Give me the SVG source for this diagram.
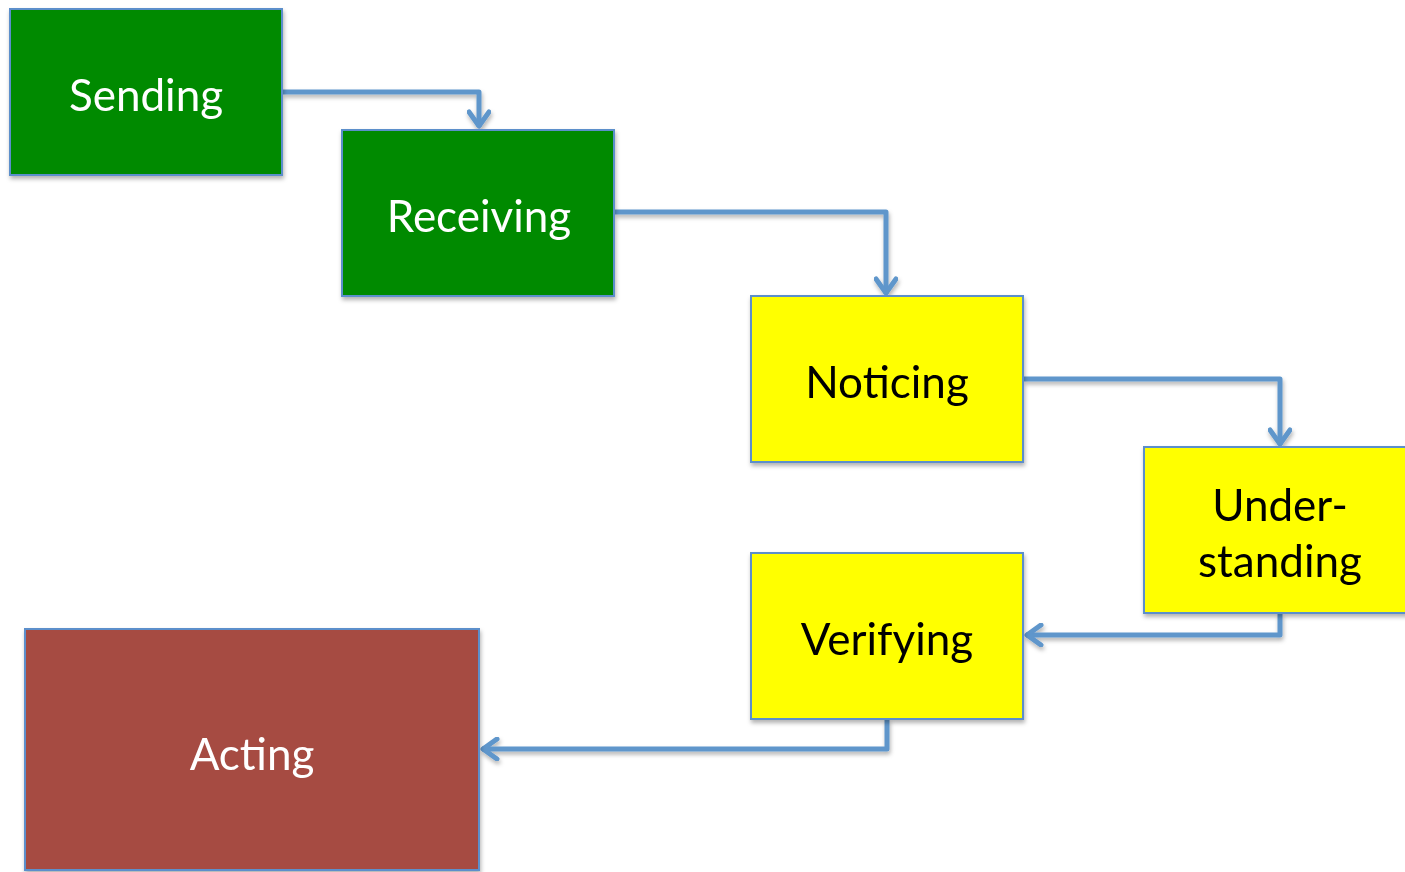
<svg xmlns="http://www.w3.org/2000/svg" width="1405" height="872" viewBox="0 0 1405 872">
<style>
.box{stroke:#5b8fcb;stroke-width:2}
.t{font-family:Lato,"Open Sans",sans-serif;font-size:44px;text-anchor:middle}
.w{fill:#ffffff}
.k{fill:#000000}
.c{fill:none;stroke:#5f96cb;stroke-width:5;stroke-linejoin:round}
</style>
<defs>
<filter id="sh" x="-10%" y="-10%" width="130%" height="130%">
<feDropShadow dx="1" dy="3" stdDeviation="2" flood-color="#000" flood-opacity="0.3"/>
</filter>
<marker id="ah" viewBox="0 0 24 24" refX="21" refY="12" markerWidth="24" markerHeight="24" markerUnits="userSpaceOnUse" orient="auto">
<path d="M6,2 L20,12 L6,22" fill="none" stroke="#5f96cb" stroke-width="5" stroke-linecap="round" stroke-linejoin="round"/>
</marker>
</defs>
<rect width="1405" height="872" fill="#ffffff"/>
<g id="connectors" filter="url(#sh)">
<path class="c" d="M283,92 H479 V127" marker-end="url(#ah)"/>
<path class="c" d="M615,212 H886 V294" marker-end="url(#ah)"/>
<path class="c" d="M1024,379 H1280 V445" marker-end="url(#ah)"/>
<path class="c" d="M1280,613 V635 H1026" marker-end="url(#ah)"/>
<path class="c" d="M887,719 V749 H482" marker-end="url(#ah)"/>
</g>
<g id="sending" filter="url(#sh)">
<rect class="box" x="10" y="9" width="272" height="166" fill="#008a00"/>
<text class="t w" x="146" y="111">Sending</text>
</g>
<g id="receiving" filter="url(#sh)">
<rect class="box" x="342" y="130" width="272" height="166" fill="#008a00"/>
<text class="t w" x="479" y="232">Receiving</text>
</g>
<g id="noticing" filter="url(#sh)">
<rect class="box" x="751" y="296" width="272" height="166" fill="#ffff00"/>
<text class="t k" x="887" y="398">Noticing</text>
</g>
<g id="understanding" filter="url(#sh)">
<rect class="box" x="1144" y="447" width="272" height="166" fill="#ffff00"/>
<text class="t k" x="1280" y="521">Under-</text>
<text class="t k" x="1280" y="577">standing</text>
</g>
<g id="verifying" filter="url(#sh)">
<rect class="box" x="751" y="553" width="272" height="166" fill="#ffff00"/>
<text class="t k" x="887" y="655">Verifying</text>
</g>
<g id="acting" filter="url(#sh)">
<rect class="box" x="25" y="629" width="454" height="241" fill="#a64b43"/>
<text class="t w" x="252" y="770">Acting</text>
</g>
</svg>
